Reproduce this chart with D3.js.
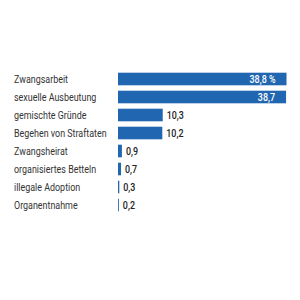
<!DOCTYPE html>
<html>
<head>
<meta charset="utf-8">
<script src="https://cdn.jsdelivr.net/npm/d3@7"></script>
<style>
  body { margin: 0; background: #fff; }
  text { font-family: Roboto, sans-serif; }
</style>
</head>
<body>
<svg id="chart" width="300" height="300"></svg>
<script>
const categories = ["Zwangsarbeit", "sexuelle Ausbeutung", "gemischte Gründe", "Begehen von Straftaten",
  "Zwangsheirat", "organisiertes Betteln", "illegale Adoption", "Organentnahme"];
const values = [38.8, 38.7, 10.3, 10.2, 0.9, 0.7, 0.3, 0.2];
const valueLabels = ["38,8 %", "38,7", "10,3", "10,2", "0,9", "0,7", "0,3", "0,2"];

const svg = d3.select("#chart");
const barColor = "#2166b0";
const squeeze = 0.85; // condensed look

const x = d3.scaleLinear().domain([0, 38.8]).range([118, 286.5]);
const y = d3.scaleBand().domain(categories).range([70, 214]).paddingInner(0.3).paddingOuter(0.15);

const rows = svg.selectAll(".row").data(categories).enter().append("g").attr("class", "row");

rows.append("text")
  .attr("transform", d => "translate(14," + (y(d) + y.bandwidth() / 2) + ") scale(" + squeeze + ",1)")
  .attr("dy", "0.36em")
  .attr("font-size", 10.5)
  .attr("fill", "#333")
  .text(d => d);

rows.append("rect")
  .attr("x", x(0))
  .attr("y", d => y(d))
  .attr("width", (d, i) => x(values[i]) - x(0))
  .attr("height", y.bandwidth())
  .attr("fill", barColor);

rows.append("text")
  .attr("transform", (d, i) => {
    const tx = values[i] > 20 ? x(values[i]) - 11 : x(values[i]) + 4;
    return "translate(" + tx + "," + (y(d) + y.bandwidth() / 2) + ") scale(" + squeeze + ",1)";
  })
  .attr("dy", "0.36em")
  .attr("text-anchor", (d, i) => values[i] > 20 ? "end" : "start")
  .attr("font-size", 10.5)
  .attr("font-weight", 500)
  .attr("fill", (d, i) => values[i] > 20 ? "#fff" : "#222")
  .text((d, i) => valueLabels[i]);
</script>
</body>
</html>
